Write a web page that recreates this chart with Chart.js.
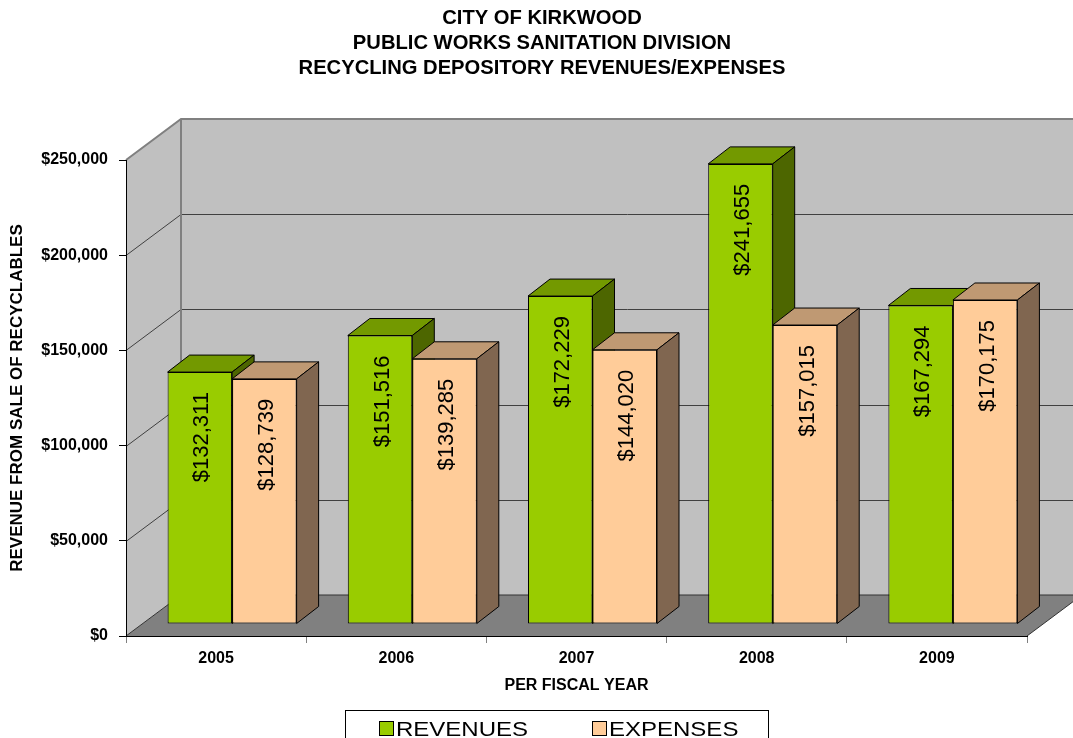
<!DOCTYPE html>
<html>
<head>
<meta charset="utf-8">
<title>Recycling Depository Revenues/Expenses</title>
<script src="https://cdn.jsdelivr.net/npm/chart.js@4.4.1/dist/chart.umd.min.js"></script>
<style>
  html, body { margin: 0; padding: 0; background: #fff; }
  canvas { display: block; }
</style>
</head>
<body>
<canvas id="recycleChart" width="1073" height="738"></canvas>
<script>
const years = ["2005", "2006", "2007", "2008", "2009"];
const revenues = [132311, 151516, 172229, 241655, 167294];
const expenses = [128739, 139285, 144020, 157015, 170175];
const titleLines = ["CITY OF KIRKWOOD", "PUBLIC WORKS SANITATION DIVISION", "RECYCLING DEPOSITORY REVENUES/EXPENSES"];

const FONT = "'Liberation Sans', Arial, sans-serif";
const WALL_DX = 55, WALL_DY = 41;   // depth of the back wall
const BAR_DX = 16, BAR_DY = 12;     // bars stand a bit into the floor
const FACE_DX = 22, FACE_DY = 17;   // depth of each bar

Chart.defaults.font.family = FONT;
Chart.defaults.color = "#000";

function money(v) {
    return "$" + v.toLocaleString("en-US");
}

// three line heading, centred a little right of the page middle
const titlePlugin = {
    id: "heading",
    afterDraw(chart) {
        const ctx = chart.ctx;
        ctx.save();
        ctx.font = "bold 20.2px " + FONT;
        ctx.fillStyle = "#000";
        ctx.textAlign = "center";
        ctx.textBaseline = "middle";
        titleLines.forEach((line, i) => ctx.fillText(line, 542, 18 + i * 25.4));
        ctx.restore();
    }
};

// grey walls, floor and the wall gridlines
const wallPlugin = {
    id: "walls",
    beforeDraw(chart) {
        const { ctx, chartArea: a, scales: { y } } = chart;
        const L = a.left, R = a.right, T = a.top, B = a.bottom;
        ctx.save();
        ctx.fillStyle = "#C0C0C0";
        ctx.beginPath();
        ctx.moveTo(L, B);
        ctx.lineTo(L, T);
        ctx.lineTo(L + WALL_DX, T - WALL_DY);
        ctx.lineTo(R + WALL_DX, T - WALL_DY);
        ctx.lineTo(R + WALL_DX, B - WALL_DY);
        ctx.lineTo(L + WALL_DX, B - WALL_DY);
        ctx.closePath();
        ctx.fill();

        // gridlines
        ctx.strokeStyle = "#404040";
        ctx.lineWidth = 1;
        y.ticks.forEach(t => {
            if (t.value <= y.min || t.value >= y.max) return;
            const py = Math.round(y.getPixelForValue(t.value)) + 0.5;
            ctx.beginPath();
            ctx.moveTo(L, py);
            ctx.lineTo(L + WALL_DX, py - WALL_DY);
            ctx.lineTo(R + WALL_DX, py - WALL_DY);
            ctx.stroke();
        });

        // wall edges
        ctx.strokeStyle = "#808080";
        ctx.lineWidth = 2;
        ctx.beginPath();
        ctx.moveTo(L, T);
        ctx.lineTo(L + WALL_DX, T - WALL_DY);
        ctx.lineTo(R + WALL_DX, T - WALL_DY);
        ctx.moveTo(L + WALL_DX, T - WALL_DY);
        ctx.lineTo(L + WALL_DX, B - WALL_DY);
        ctx.stroke();

        // floor
        ctx.fillStyle = "#808080";
        ctx.beginPath();
        ctx.moveTo(L, B);
        ctx.lineTo(R, B);
        ctx.lineTo(R + WALL_DX, B - WALL_DY);
        ctx.lineTo(L + WALL_DX, B - WALL_DY);
        ctx.closePath();
        ctx.fill();
        ctx.strokeStyle = "#333";
        ctx.lineWidth = 1;
        ctx.beginPath();
        ctx.moveTo(L, B);
        ctx.lineTo(L + WALL_DX, B - WALL_DY);
        ctx.lineTo(R + WALL_DX, B - WALL_DY);
        ctx.moveTo(R, B);
        ctx.lineTo(R + WALL_DX, B - WALL_DY);
        ctx.stroke();
        ctx.restore();
    }
};

// bars drawn category by category so each box hides the one behind it
const barsPlugin = {
    id: "bars3d",
    beforeDatasetDraw() {
        return false;
    },
    afterDatasetsDraw(chart) {
        const ctx = chart.ctx;
        const metas = chart.data.datasets.map((ds, i) => chart.getDatasetMeta(i));
        ctx.save();
        ctx.translate(BAR_DX, -BAR_DY);
        years.forEach((yr, j) => {
            metas.forEach((meta, i) => {
                const ds = chart.data.datasets[i];
                const bar = meta.data[j];
                const { x, y, base, width } = bar.getProps(["x", "y", "base", "width"], true);
                const l = x - width / 2, r = x + width / 2;
                bar.draw(ctx);

                ctx.save();
                ctx.lineWidth = 1;
                ctx.strokeStyle = "#000";
                ctx.fillStyle = ds.topColor;
                ctx.beginPath();
                ctx.moveTo(l, y);
                ctx.lineTo(l + FACE_DX, y - FACE_DY);
                ctx.lineTo(r + FACE_DX, y - FACE_DY);
                ctx.lineTo(r, y);
                ctx.closePath();
                ctx.fill();
                ctx.stroke();

                ctx.fillStyle = ds.sideColor;
                ctx.beginPath();
                ctx.moveTo(r, y);
                ctx.lineTo(r + FACE_DX, y - FACE_DY);
                ctx.lineTo(r + FACE_DX, base - FACE_DY);
                ctx.lineTo(r, base);
                ctx.closePath();
                ctx.fill();
                ctx.stroke();
                ctx.restore();
            });
        });

        // value labels, written upward near the top of each bar
        ctx.font = "22px " + FONT;
        ctx.fillStyle = "#000";
        ctx.textAlign = "right";
        ctx.textBaseline = "middle";
        metas.forEach((meta, i) => {
            meta.data.forEach((bar, j) => {
                ctx.save();
                ctx.translate(bar.x + 2.5, bar.y + 20);
                ctx.rotate(-Math.PI / 2);
                ctx.fillText(money(chart.data.datasets[i].data[j]), 0, 0);
                ctx.restore();
            });
        });
        ctx.restore();
    }
};

// boxed legend under the axis title
const legendPlugin = {
    id: "boxLegend",
    afterDraw(chart) {
        const ctx = chart.ctx;
        const items = [
            { x: 379, ds: chart.data.datasets[0] },
            { x: 592, ds: chart.data.datasets[1] }
        ];
        ctx.save();
        ctx.strokeStyle = "#000";
        ctx.lineWidth = 1;
        ctx.strokeRect(345.5, 710.5, 423, 40);
        items.forEach(it => {
            ctx.fillStyle = it.ds.backgroundColor;
            ctx.fillRect(it.x + 0.5, 721.5, 14, 14);
            ctx.strokeRect(it.x + 0.5, 721.5, 14, 14);
            ctx.save();
            ctx.translate(it.x + 17, 736);
            ctx.scale(1.2, 1);
            ctx.fillStyle = "#000";
            ctx.font = "20px " + FONT;
            ctx.textBaseline = "alphabetic";
            ctx.fillText(it.ds.label, 0, 0);
            ctx.restore();
        });
        ctx.restore();
    }
};

new Chart(document.getElementById("recycleChart"), {
    type: "bar",
    data: {
        labels: years,
        datasets: [
            { label: "REVENUES", data: revenues, backgroundColor: "#99CC00", topColor: "#739900", sideColor: "#4D6600",
              borderColor: "#000", borderWidth: 1, borderSkipped: false },
            { label: "EXPENSES", data: expenses, backgroundColor: "#FFCC99", topColor: "#BF9973", sideColor: "#806650",
              borderColor: "#000", borderWidth: 1, borderSkipped: false }
        ]
    },
    options: {
        responsive: false,
        animation: false,
        categoryPercentage: 0.716,
        barPercentage: 1,
        layout: { padding: { left: 0, right: 46, top: 160, bottom: 0 } },
        plugins: {
            legend: { display: false },
            tooltip: { enabled: false },
            title: { display: false }
        },
        scales: {
            x: {
                grid: { drawOnChartArea: false, drawTicks: true, tickLength: 7, color: "#808080" },
                border: { display: true, color: "#000", width: 1 },
                ticks: { font: { size: 16, weight: "bold" }, padding: 6, color: "#000" },
                title: { display: true, text: "PER FISCAL YEAR", font: { size: 16, weight: "bold" }, padding: { bottom: 43 }, color: "#000" },
                afterFit: s => { s.height = 102; }
            },
            y: {
                min: 0,
                max: 250000,
                grid: { drawOnChartArea: false, drawTicks: true, tickLength: 7, color: "#000" },
                border: { display: true, color: "#000", width: 1 },
                ticks: { stepSize: 50000, font: { size: 16, weight: "bold" }, padding: 11, color: "#000", callback: v => money(v) },
                title: { display: true, text: "REVENUE FROM SALE OF RECYCLABLES", font: { size: 17, weight: "bold" }, padding: { top: 7 }, color: "#000" },
                afterFit: s => { s.width = 126; }
            }
        }
    },
    plugins: [wallPlugin, barsPlugin, legendPlugin, titlePlugin]
});
</script>
</body>
</html>
